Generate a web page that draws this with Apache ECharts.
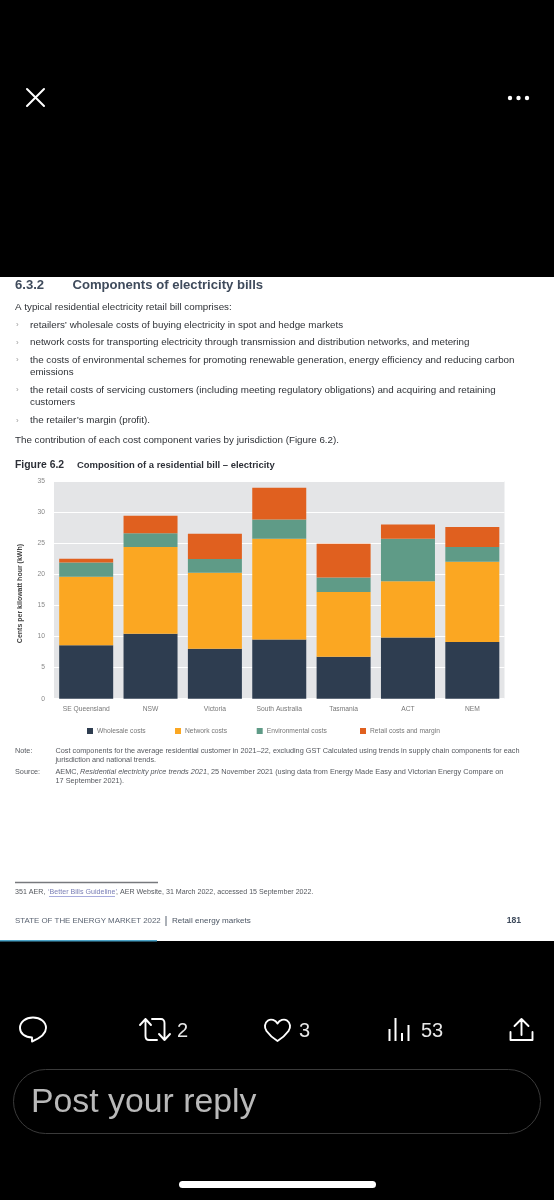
<!DOCTYPE html>
<html>
<head>
<meta charset="utf-8">
<style>
html,body{margin:0;padding:0;background:#000;}
#c{position:absolute;left:0;top:0;width:554px;height:1200px;}
#soft{position:absolute;left:0;top:277px;width:554px;height:664px;backdrop-filter:blur(0.65px);-webkit-backdrop-filter:blur(0.65px);pointer-events:none;}
</style>
<script src="https://cdn.jsdelivr.net/npm/echarts@6/dist/echarts.min.js"></script>
</head>
<body>
<div id="c"></div>
<div id="soft"></div>
<script>
const categories = ['SE Queensland','NSW','Victoria','South Australia','Tasmania','ACT','NEM'];
const wholesale = [8.6,10.45,8.05,9.5,6.75,9.85,9.1];
const network = [11.0,13.95,12.2,16.2,10.4,9.05,12.9];
const environmental = [2.3,2.2,2.2,3.1,2.35,6.8,2.4];
const retail = [0.6,2.8,4.05,5.1,5.4,2.3,3.2];
const seriesNames = ['Wholesale costs','Network costs','Environmental costs','Retail costs and margin'];
const colors = ['#2e3d50','#fba722','#5f9b87','#e0601f'];
const yAxisName = 'Cents per kilowatt hour (kWh)';
const legendLeft = [87,175,256.7,360];

const FONT = '"Liberation Sans", Arial, sans-serif';
const g = [];
let iconId = 0;
function rect(x,y,w,h,fill,z){ g.push({type:'rect',z:z||0,shape:{x,y,width:w,height:h},style:{fill}}); }
function text(t,x,y,size,fill,opt){
  opt=opt||{};
  g.push({type:'text',z:5,x,y,style:{text:t,fill,font:(opt.italic?'italic ':'')+(opt.bold?'bold ':'')+size+'px '+(opt.family||FONT),textVerticalAlign:'middle',textAlign:opt.align||'left'}});
}
function icon(d,x,y,lw){
  const name='uiIcon'+(iconId++);
  echarts.graphic.registerShape(name,echarts.graphic.extendPath(d,{}));
  g.push({type:name,z:5,x,y,style:{fill:'none',stroke:'#fff',lineWidth:lw||1.9,lineCap:'round',lineJoin:'round'}});
}

// page
rect(0,277,554,664,'#fff',-10);
rect(0,940,157,1.5,'#4aa3c7',1);

// page text
const dark='#2f3237', head='#3f4b5c';
const BODY=9.8;
text('6.3.2',15,285.7,13.1,head,{bold:true});
text('Components of electricity bills',72.5,285.7,13.1,head,{bold:true});
text('A typical residential electricity retail bill comprises:',15,307,BODY,dark);
const bullets=[
 ['retailers\u2019 wholesale costs of buying electricity in spot and hedge markets',325,true],
 ['network costs for transporting electricity through transmission and distribution networks, and metering',342.7,true],
 ['the costs of environmental schemes for promoting renewable generation, energy efficiency and reducing carbon',360,true],
 ['emissions',372.7,false],
 ['the retail costs of servicing customers (including meeting regulatory obligations) and acquiring and retaining',390,true],
 ['customers',402,false],
 ['the retailer\u2019s margin (profit).',420.7,true]];
bullets.forEach(b=>{ text(b[0],30,b[1],BODY,dark); if(b[2]) text('\u203a',16,b[1],8,'#9a9a9a'); });
text('The contribution of each cost component varies by jurisdiction (Figure 6.2).',15,440,BODY,dark);
text('Figure 6.2',15,465,10.4,'#2d3038',{bold:true});
text('Composition of a residential bill \u2013 electricity',77,465,9.45,'#2d3038',{bold:true});

const nc='#55585e', NF=7.3;
text('Note:',15,751,NF,nc);
text('Cost components for the average residential customer in 2021\u201322, excluding GST Calculated using trends in supply chain components for each',55.5,751,NF,nc);
text('jurisdiction and national trends.',55.5,760,NF,nc);
text('Source:',15,772,NF,nc);
text('AEMC,',55.5,772,NF,nc);
text('Residential electricity price trends 2021',80,772,NF,nc,{italic:true});
text(', 25 November 2021 (using data from Energy Made Easy and Victorian Energy Compare on',207,772,NF,nc);
text('17 September 2021).',55.5,781,NF,nc);

rect(15,881.7,143,1.6,'#77797d');
text('351 AER,',15,892,7.1,nc);
text('\u2018Better Bills Guideline\u2019',48,892,7.1,'#7a7fb5');
rect(49,896,66,0.8,'#8a8fd0');
text(', AER Website, 31 March 2022, accessed 15 September 2022.',116,892,7.1,nc);
text('STATE OF THE ENERGY MARKET 2022',15,920.7,7.9,'#5b6472');
rect(165.5,916,1,10,'#5b6472');
text('Retail energy markets',172,920.7,8.1,'#4c5664');
text('181',521,920.7,8.6,'#3f4b5c',{bold:true,align:'right'});

// top bar icons
icon('M0 0L17 17M17 0L0 17',27,89,2);
[510,518.5,527].forEach(cx=>g.push({type:'circle',z:5,shape:{cx,cy:98,r:2.2},style:{fill:'#fff'}}));

// bottom bar
icon('M13 0C5.5 0 0 4.5 0 10.5C0 16 5 20 12 20L12 24C18 21.5 26 16.5 26 10.5C26 4.5 20.5 0 13 0Z',20,1017.5);
icon('M0 6L5.5 0L11 6M5.5 0L5.5 17C5.5 19.5 7 21 9 21L17 21',140,1019);
icon('M0 0L9 0C11 0 12.5 1.5 12.5 4L12.5 21M7 15L12.5 21L18 15',152,1019);
icon('M12.5 4C10.5 0.5 6 -1 3 1C-0.5 3.5 -1 8 1.5 11.5C4 15 8.5 19 12.5 21.5C16.5 19 21 15 23.5 11.5C26 8 25.5 3.5 22 1C19 -1 14.5 0.5 12.5 4Z',265,1019.5);
rect(388.5,1029,2,12,'#fff'); rect(394.5,1018,2,23,'#fff'); rect(401,1033,2,8,'#fff'); rect(407.5,1025,2,16,'#fff');
icon('M0 13L0 21L22 21L22 13M11 16L11 0M4 7L11 0L18 7',510.5,1019);
text('2',177,1031,20,'#e7e7e7');
text('3',299,1031,20,'#e7e7e7');
text('53',421,1031,20,'#e7e7e7');
g.push({type:'rect',z:5,shape:{x:13.5,y:1069.5,width:527,height:64,r:32},style:{fill:'none',stroke:'#3a3a3a',lineWidth:1}});
text('Post your reply',31,1103,33.8,'#b9b9b9');
g.push({type:'rect',z:5,shape:{x:179,y:1181,width:197,height:7,r:3.5},style:{fill:'#fff'}});

const chart = echarts.init(document.getElementById('c'),null,{width:554,height:1200});
const data=[wholesale,network,environmental,retail];
chart.setOption({
  animation:false,
  backgroundColor:'#000',
  textStyle:{fontFamily:FONT},
  graphic:{elements:g},
  grid:{left:54,top:481,width:450.5,height:217.7,show:true,backgroundColor:'#e4e5e7',borderWidth:0},
  legend:seriesNames.map((n,i)=>({show:true,left:legendLeft[i],top:727.5,padding:0,itemWidth:6,itemHeight:6,icon:'rect',
    data:[n],textStyle:{fontSize:6.7,color:'#777',padding:[0,0,0,-1]}})),
  xAxis:{type:'category',data:categories,axisLine:{show:false},axisTick:{show:false},
    axisLabel:{fontSize:6.7,color:'#777',margin:7,interval:0},z:3},
  yAxis:{type:'value',min:0,max:35,interval:5,name:yAxisName,nameLocation:'middle',nameGap:30,
    nameTextStyle:{fontSize:7,color:'#444',fontWeight:'bold',padding:[0,7.4,0,0]},
    axisLine:{show:false},axisTick:{show:false},
    axisLabel:{fontSize:6.7,color:'#888',margin:9},
    splitLine:{show:true,lineStyle:{color:'#fff',width:1.2}}},
  series:seriesNames.map((n,i)=>({name:n,type:'bar',stack:'total',barWidth:54,data:data[i],
    itemStyle:{color:colors[i]},z:4}))
});
</script>
</body>
</html>
